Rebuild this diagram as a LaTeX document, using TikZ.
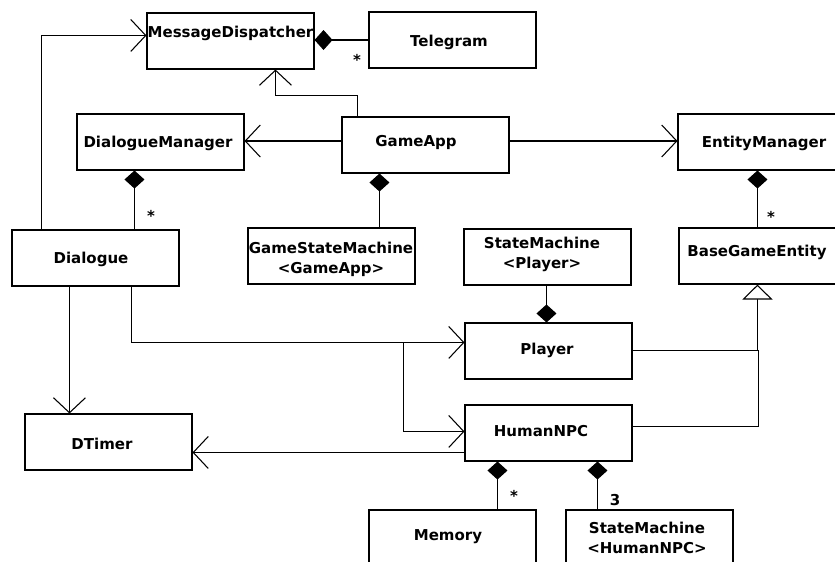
\documentclass[tikz,border=0pt]{standalone}
\usepackage{fontspec}
\setmainfont{DejaVu Sans}
\usetikzlibrary{arrows.meta,calc}
\begin{document}
\begin{tikzpicture}[x=0.75pt,y=-0.75pt, line width=0.8pt,
  cls/.style={draw, rectangle, minimum width=125.25pt, minimum height=42pt, inner sep=0pt},
  lbl/.style={font=\bfseries\fontsize{11.25pt}{15pt}\selectfont, inner sep=0pt, anchor=base, align=center},
  mult/.style={font=\bfseries\fontsize{11.25pt}{15pt}\selectfont, inner sep=0pt, anchor=base},
  assoc/.style={-{Straight Barb[length=11.25pt,width=24pt]}},
  comp/.style={-{Diamond[length=13.5pt,width=15pt,fill=black]}},
  inh/.style={-{Triangle[open,length=11.25pt,width=22.5pt,fill=white]}}]
\useasboundingbox (0,0) rectangle (835,561);
\clip (0,0) rectangle (835,561);
\fill[white] (0,0) rectangle (835,561);
% boxes
\node[cls] (md)  at (230.5,41) {};
\node[cls] (tel) at (452.5,40) {};
\node[cls] (dm)  at (160.5,142) {};
\node[cls] (ga)  at (425.5,145) {};
\node[cls] (em)  at (761.5,142) {};
\node[cls] (dlg) at (95.5,258) {};
\node[cls] (gsm) at (331.5,256) {};
\node[cls] (smp) at (547.5,257) {};
\node[cls] (bge) at (762.5,256) {};
\node[cls] (pl)  at (548.5,351) {};
\node[cls] (npc) at (548.5,433) {};
\node[cls] (dt)  at (108.5,442) {};
\node[cls] (mem) at (452.5,538) {};
\node[cls] (smn) at (649.5,538) {};
% labels
\node[lbl] (mdT)  at (230.5,37) {MessageDispatcher};
\node[lbl] (telT) at (449,46) {Telegram};
\node[lbl] (dmT)  at (158,147) {DialogueManager};
\node[lbl] (gaT)  at (416,146) {GameApp};
\node[lbl] (emT)  at (764,147) {EntityManager};
\node[lbl] (dlgT) at (91,263) {Dialogue};
\node[lbl] (gsmT) at (331,273) {GameStateMachine\\<GameApp>};
\node[lbl] (smpT) at (542,268) {StateMachine\\<Player>};
\node[lbl] (bgeT) at (757,256) {BaseGameEntity};
\node[lbl] (plT)  at (547,354) {Player};
\node[lbl] (npcT) at (541,436) {HumanNPC};
\node[lbl] (dtT)  at (102,449) {DTimer};
\node[lbl] (memT) at (448,540) {Memory};
\node[lbl] (smnT) at (647,553) {StateMachine\\<HumanNPC>};
% connectors
\draw[comp] (tel.west) -- (tel.west -| md.east);
\draw[assoc] ($(dlg.north west)+(30,0)$) |- ($(md.north west)+(0,23)$);
\draw[assoc] ($(ga.north west)+(16,0)$) -- ++(0,-21) -| ($(md.south west)+(129,0)$);
\draw[assoc] ($(ga.west)+(0,-4)$) -- ($(dm.east)+(0,-1)$);
\draw[assoc] ($(ga.east)+(0,-4)$) -- ($(em.west)+(0,-1)$);
\draw[comp] ($(dlg.north west)+(123,0)$) -- ($(dm.south west)+(58,0)$);
\draw[comp] ($(gsm.north west)+(132,0)$) -- ($(ga.south west)+(38,0)$);
\draw[comp] ($(bge.north west)+(79,0)$) -- ($(em.south west)+(80,0)$);
\draw[comp] ($(smp.south west)+(83,0)$) -- ($(pl.north west)+(82,0)$);
\draw[inh] ($(pl.north east)+(0,28)$) -| ($(bge.south west)+(79,0)$);
\draw ($(npc.north east)+(0,22)$) -| ($(pl.north east)+(126,28)$);
\draw[assoc] ($(dlg.south west)+(58,0)$) -- ($(dt.north west)+(45,0)$);
\draw[assoc] ($(dlg.south west)+(120,0)$) |- ($(pl.north west)+(0,20)$);
\draw[assoc] ($(pl.north west)+(-61,20)$) |- ($(npc.north west)+(0,27)$);
\draw[assoc] ($(npc.north west)+(0,48)$) -- ($(dt.north east)+(0,39)$);
\draw[comp] ($(mem.north west)+(129,0)$) -- ($(npc.south west)+(33,0)$);
\draw[comp] ($(smn.north west)+(32,0)$) -- ($(npc.south west)+(133,0)$);
% multiplicities
\node[mult] (m1) at (357,65) {*};
\node[mult] (m2) at (151,221) {*};
\node[mult] (m3) at (771,222) {*};
\node[mult] (m4) at (514,501) {*};
\node[mult] (m5) at (615,505) {3};
\end{tikzpicture}
\end{document}
